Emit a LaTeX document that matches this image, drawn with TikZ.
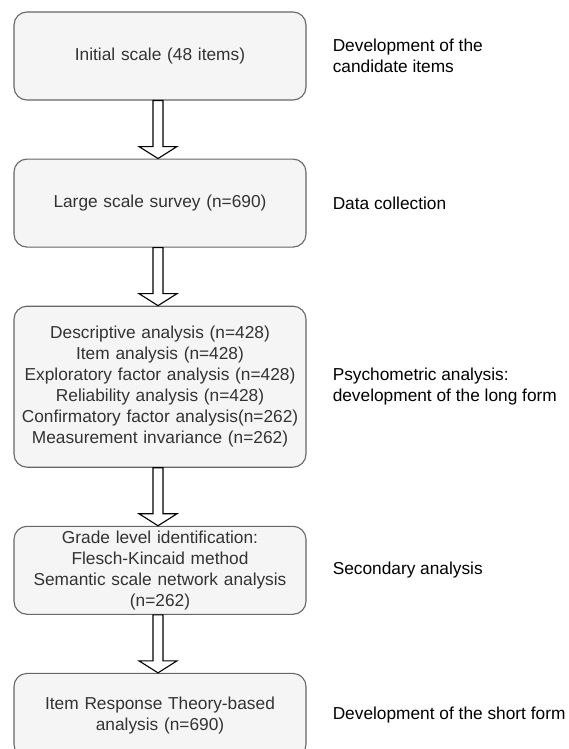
\documentclass[tikz,border=0pt]{standalone}
\usepackage{fontspec}
\setmainfont{Liberation Sans}
\usetikzlibrary{positioning,calc}
\definecolor{boxfill}{HTML}{F5F5F5}
\definecolor{boxline}{HTML}{666666}
\definecolor{boxtext}{HTML}{333333}
\tikzset{
  stage/.style={draw=boxline, fill=boxfill, text=boxtext, rounded corners=13pt, line width=1.1pt,
    text width=284pt, align=center, minimum width=292pt, minimum height=88pt, inner sep=3pt},
  phase/.style={align=left, inner sep=0pt, anchor=west},
  blockarrow/.style={draw=black, fill=white, line width=1.1pt, line join=miter}
}

\begin{document}
\begin{tikzpicture}[x=1pt, y=-1pt, node distance=58pt, font=\fontsize{17.3}{21}\selectfont]
  \useasboundingbox (0,0) rectangle (569,749);
  % stages of the scale
  \node (init) [stage] at (160,56) {Initial scale (48 items)};
  \node (survey) [stage, below=of init] {Large scale survey (n=690)};
  \node (psych) [stage, below=of survey, minimum height=161pt] {Descriptive analysis (n=428)\\Item analysis (n=428)\\Exploratory factor analysis (n=428)\\Reliability analysis (n=428)\\Confirmatory factor analysis(n=262)\\Measurement invariance (n=262)};
  \node (grade) [stage, below=of psych] {Grade level identification:\\Flesch-Kincaid method\\Semantic scale network analysis\\(n=262)};
  \node (irt) [stage, below=of grade, minimum height=84pt] {Item Response Theory-based\\analysis (n=690)};
  % phase labels
  \node (devcand) [phase, right=26pt of init] {Development of the\\candidate items};
  \node (datacoll) [phase, right=26pt of survey] {Data collection};
  \node (longform) [phase, right=26pt of psych] {Psychometric analysis:\\development of the long form};
  \node (secondary) [phase, right=26pt of grade] {Secondary analysis};
  \node (shortform) [phase, right=26pt of irt] {Development of the short form};
  % block arrows
  \foreach \a/\b in {init/survey, survey/psych, psych/grade, grade/irt}
    \draw[blockarrow] ($(\a.south)+(-7,0)$) -- ($(\b.north)+(-7,-12)$) -- ++(-14,0) -- ($(\b.north)+(-2,0)$)
      -- ++(19,-12) -- ++(-14,0) -- ($(\a.south)+(3,0)$) -- cycle;
\end{tikzpicture}
\end{document}
